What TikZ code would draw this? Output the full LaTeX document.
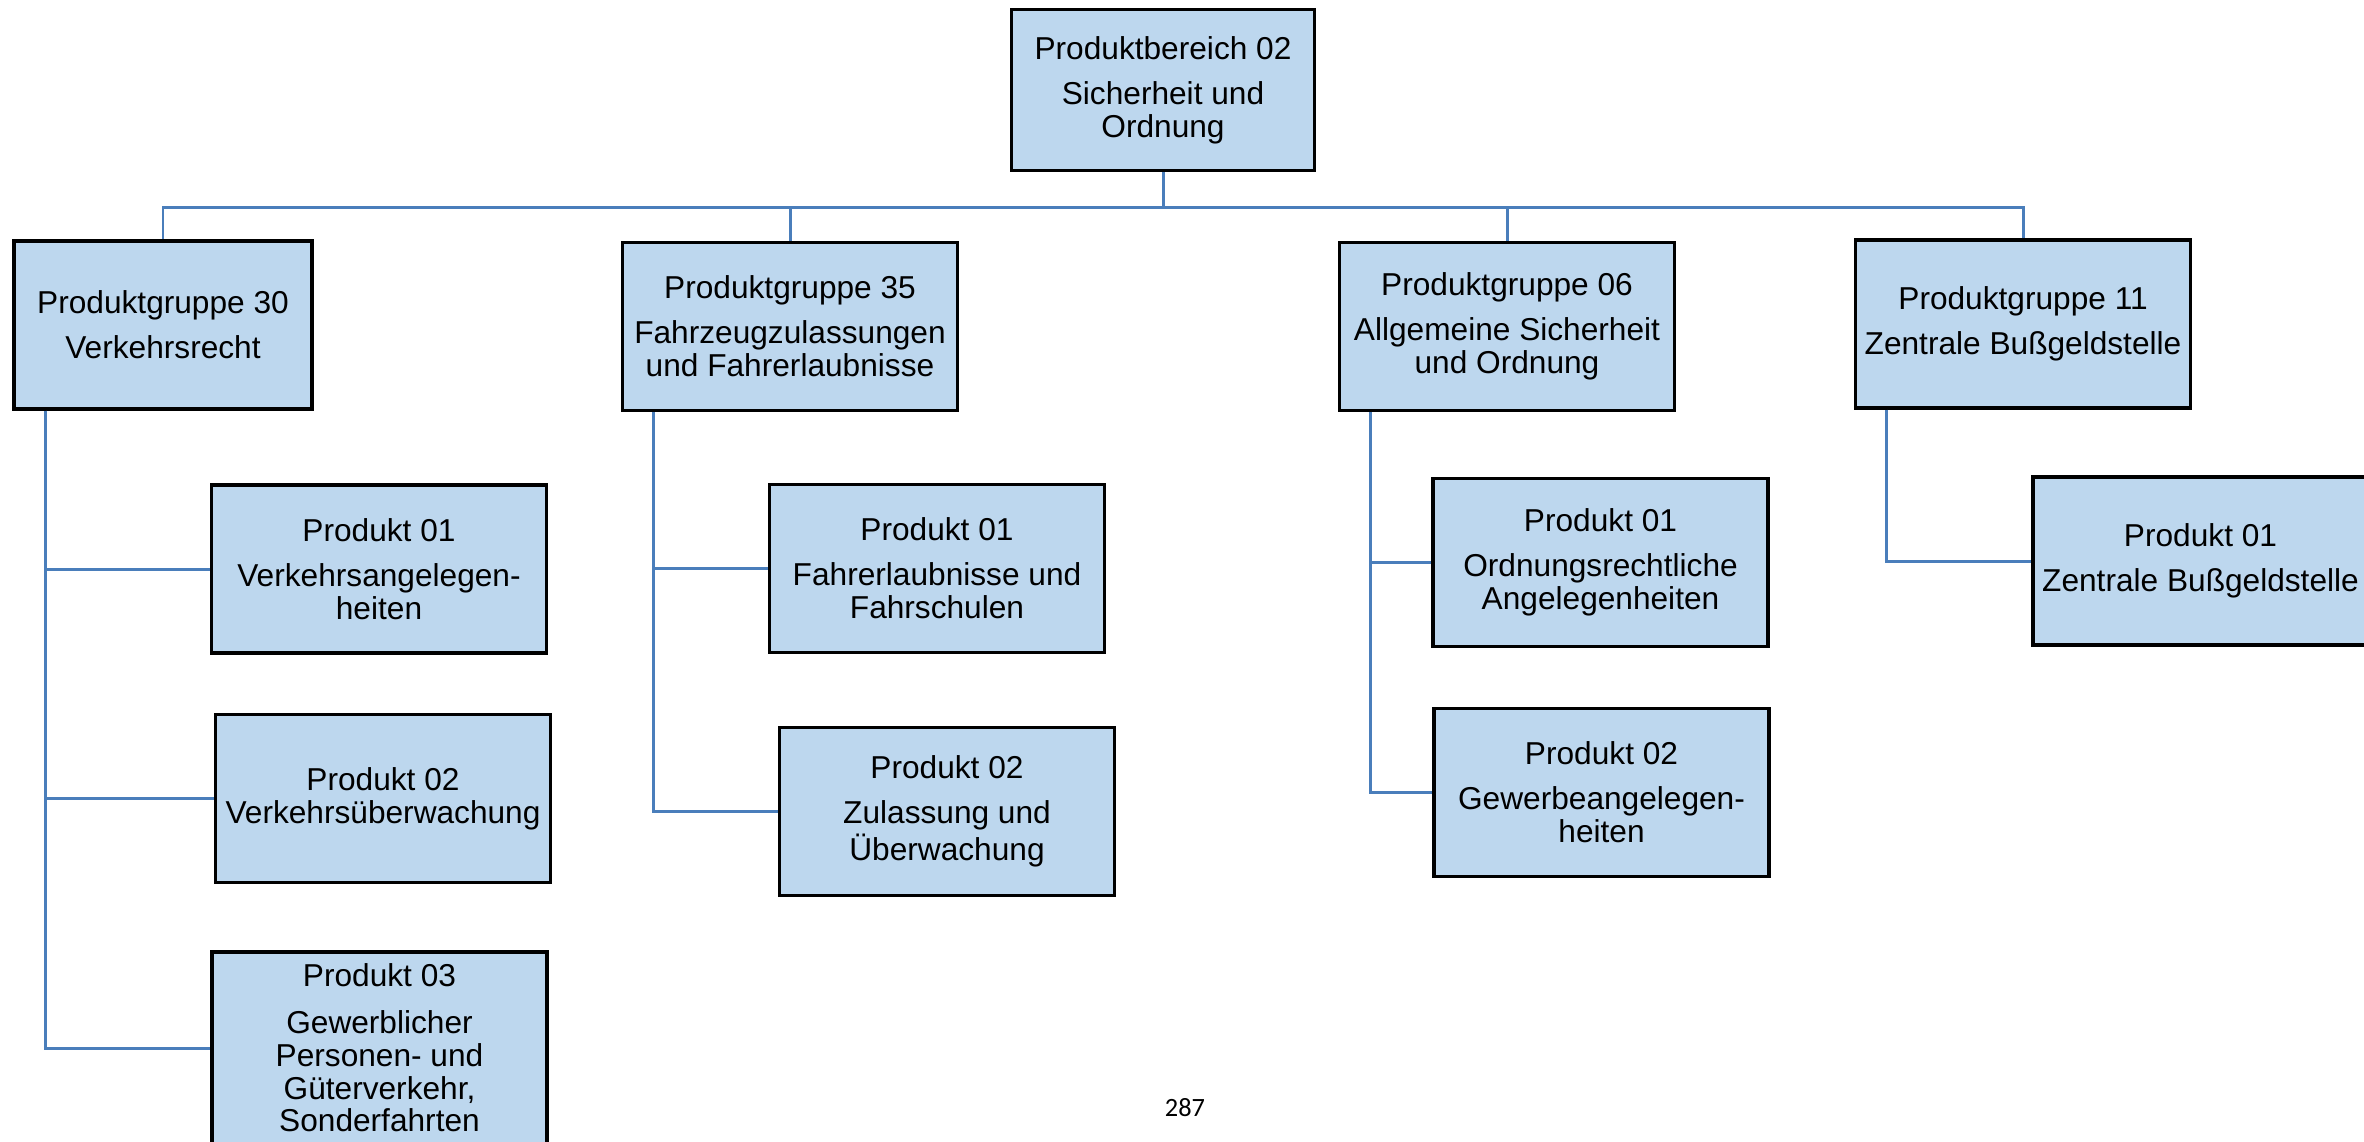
\documentclass[tikz,border=0pt]{standalone}
\usepackage{fontspec}
\setmainfont{Liberation Sans}
\newfontfamily\pagefont{Carlito}
\usepackage{tikz}
\definecolor{boxblue}{HTML}{BDD7EE}
\definecolor{linkblue}{HTML}{4A7EBB}

\begin{document}
\begin{tikzpicture}[x=0.01cm, y=-0.01cm,
    box/.style={draw=black, line width=0.95pt, fill=boxblue, align=center, inner sep=1pt,
        minimum width=3.35cm, minimum height=1.68cm, font=\fontsize{9}{9.3}\selectfont},
    link/.style={draw=linkblue, line width=0.85pt}]
        \useasboundingbox (0,0) rectangle (2364,1141);
        % --- Produktbereich ---
        \node[box, minimum width=3.03cm, minimum height=1.61cm] (pb02) at (1163,90) {Produktbereich 02\\[3.5pt]Sicherheit und\\Ordnung};
        % --- Produktgruppen ---
        \node[box, minimum width=2.98cm] (pg30) at (163,325) {Produktgruppe 30\\[3.5pt]Verkehrsrecht};
        \node[box] (pg35) at (790,326.5) {Produktgruppe 35\\[3.5pt]Fahrzeugzulassungen\\und Fahrerlaubnisse};
        \node[box] (pg06) at (1507,326.5) {Produktgruppe 06\\[3.5pt]Allgemeine Sicherheit\\und Ordnung};
        \node[box] (pg11) at (2023,324) {Produktgruppe 11\\[3.5pt]Zentrale Bußgeldstelle};
        % --- Produkte ---
        \node[box] (p3001) at (379,569) {Produkt 01\\[3.5pt]Verkehrsangelegen-\\heiten};
        \node[box] (p3002) at (383,798.5) {Produkt 02\\Verkehrsüberwachung};
        \node[box, minimum height=1.92cm] (p3003) at (379.5,1048) {Produkt 03\\[4pt]Gewerblicher\\Personen- und\\Güterverkehr,\\Sonderfahrten};
        \node[box] (p3501) at (937,568.5) {Produkt 01\\[3.5pt]Fahrerlaubnisse und\\Fahrschulen};
        \node[box] (p3502) at (947,811.5) {Produkt 02\\[3.5pt]Zulassung und\\Überwachung};
        \node[box] (p0601) at (1600.5,562.5) {Produkt 01\\[3.5pt]Ordnungsrechtliche\\Angelegenheiten};
        \node[box] (p0602) at (1601.5,792.5) {Produkt 02\\[3.5pt]Gewerbeangelegen-\\heiten};
        \node[box] (p1101) at (2200.5,561) {Produkt 01\\[3.5pt]Zentrale Bußgeldstelle};
        % --- Verbindungen ---
        \draw[link] (pb02.south) -- ++(0,35) coordinate (bus);
        \foreach \g in {pg30,pg35,pg06,pg11}
            \draw[link] (bus) -| (\g.north);
        \foreach \g/\p in {pg30/p3001, pg30/p3002, pg30/p3003, pg35/p3501, pg35/p3502,
                pg06/p0601, pg06/p0602, pg11/p1101}
            \draw[link] ([xshift=0.33cm]\g.south west) |- (\p.west);
        % ---
        \node[font=\pagefont\fontsize{7.5}{9}\selectfont] (seite) at (1185,1108) {287};
    \end{tikzpicture}
\end{document}
